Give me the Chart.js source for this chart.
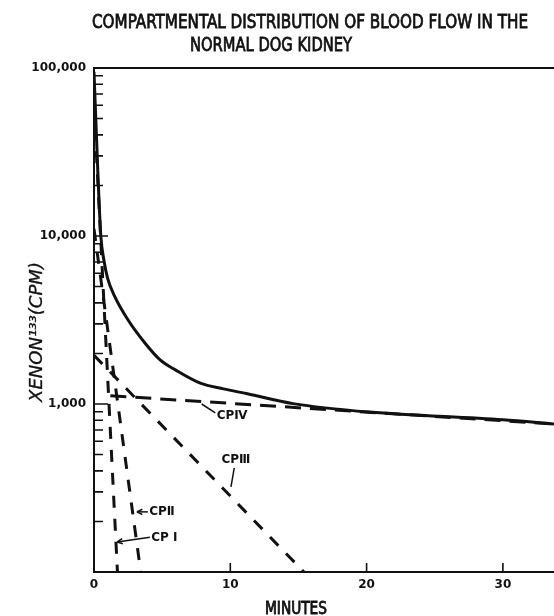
<!DOCTYPE html>
<html>
<head>
<meta charset="utf-8">
<script src="https://cdn.jsdelivr.net/npm/chart.js@4.4.1/dist/chart.umd.min.js"></script>
<style>
  html, body { margin: 0; padding: 0; background: #fff; }
  #wrap { width: 554px; height: 616px; position: relative; }
</style>
</head>
<body>
<div id="wrap"><canvas id="chart"></canvas></div>
<script>
// --- DATA (minutes / counts per minute) ---
const xTicks = [0, 10, 20, 30];
const yLabelValues = [100000, 10000, 1000];
const yLabelText = ['100,000', '10,000', '1,000'];
const yMinorSteps = [2, 3, 4, 5, 6, 7, 8, 9];
const yDecades = [100, 1000, 10000];

// total curve (solid)
const totalMin = [0, 0.3, 0.5, 0.75, 1.0, 1.5, 2.5, 3.75, 4.85, 6, 7.8, 9.5, 11.25, 14.6, 20.2, 30, 33.75];
const totalCpm = [95000, 22000, 10000, 7000, 5600, 4400, 3160, 2300, 1830, 1590, 1330, 1230, 1150, 1005, 895, 805, 760];

// compartments (dashed, straight on the log scale)
const cp1Min = [0, 1.72];
const cp1Cpm = [60000, 100];
const cp2Min = [0, 3.43];
const cp2Cpm = [11000, 100];
const cp3Min = [0, 15.4];
const cp3Cpm = [1950, 100];
const cp4Min = [1.2, 33.75];
const cp4Cpm = [1120, 760];

const INK = '#111';

function pts(xs, ys) {
  return xs.map((v, i) => ({ x: v, y: ys[i] }));
}

// text squeezed/stretched to a given width, with an optional outline for weight
function fitText(ctx, text, x, y, width, stroke) {
  const w = ctx.measureText(text).width;
  ctx.save();
  ctx.translate(x, y);
  ctx.scale(width / w, 1);
  ctx.fillText(text, 0, 0);
  if (stroke) {
    ctx.lineWidth = stroke;
    ctx.strokeText(text, 0, 0);
  }
  ctx.restore();
}

function arrowHead(ctx, x0, y0, x1, y1) {
  const ang = Math.atan2(y1 - y0, x1 - x0);
  ctx.beginPath();
  ctx.moveTo(x1, y1);
  ctx.lineTo(x1 - 6 * Math.cos(ang - 0.45), y1 - 6 * Math.sin(ang - 0.45));
  ctx.moveTo(x1, y1);
  ctx.lineTo(x1 - 6 * Math.cos(ang + 0.45), y1 - 6 * Math.sin(ang + 0.45));
  ctx.stroke();
}

// labels on the curves, in data coordinates
const notes = [
  { text: 'CPⅣ', at: [9.0, 850], lead: [[7.9, 1000], [8.9, 885]], arrow: false },
  { text: 'CPⅢ', at: [9.35, 464], lead: [[10.29, 416], [10.05, 321]], arrow: false },
  { text: 'CPⅡ', at: [4.05, 228], lead: [[3.95, 228], [3.15, 228]], arrow: true },
  { text: 'CP Ⅰ', at: [4.2, 159], lead: [[4.1, 161], [1.7, 151]], arrow: true }
];

const frame = {
  id: 'frame',
  afterDraw(chart) {
    const { ctx, chartArea: a, scales: { x, y } } = chart;
    ctx.save();
    ctx.strokeStyle = INK;
    ctx.fillStyle = INK;

    // plot frame: top, left, bottom
    ctx.lineWidth = 2;
    ctx.beginPath();
    ctx.moveTo(a.right, a.top);
    ctx.lineTo(a.left, a.top);
    ctx.lineTo(a.left, a.bottom);
    ctx.lineTo(a.right, a.bottom);
    ctx.stroke();

    // inward ticks
    ctx.lineWidth = 1.6;
    ctx.beginPath();
    yDecades.forEach(d => yMinorSteps.forEach(m => {
      const py = y.getPixelForValue(d * m);
      ctx.moveTo(a.left, py);
      ctx.lineTo(a.left + 9, py);
    }));
    [10000, 1000].forEach(v => {
      const py = y.getPixelForValue(v);
      ctx.moveTo(a.left, py);
      ctx.lineTo(a.left + 14, py);
    });
    xTicks.slice(1).forEach(v => {
      const px = x.getPixelForValue(v);
      ctx.moveTo(px, a.bottom);
      ctx.lineTo(px, a.bottom - 9);
    });
    ctx.stroke();

    // curve labels
    ctx.font = 'bold 12px "DejaVu Sans"';
    ctx.textBaseline = 'middle';
    ctx.textAlign = 'left';
    ctx.lineWidth = 1.5;
    notes.forEach(n => {
      ctx.fillText(n.text, x.getPixelForValue(n.at[0]), y.getPixelForValue(n.at[1]));
      const [p0, p1] = n.lead;
      const x0 = x.getPixelForValue(p0[0]), y0 = y.getPixelForValue(p0[1]);
      const x1 = x.getPixelForValue(p1[0]), y1 = y.getPixelForValue(p1[1]);
      ctx.beginPath();
      ctx.moveTo(x0, y0);
      ctx.lineTo(x1, y1);
      ctx.stroke();
      if (n.arrow) arrowHead(ctx, x0, y0, x1, y1);
    });

    // title
    ctx.textBaseline = 'alphabetic';
    ctx.font = '20px "Liberation Sans Narrow", "DejaVu Sans Condensed", sans-serif';
    fitText(ctx, 'COMPARTMENTAL DISTRIBUTION OF BLOOD FLOW IN THE', 92, 28, 436, 0.8);
    fitText(ctx, 'NORMAL DOG KIDNEY', 190, 51, 162, 0.8);

    // x axis title
    ctx.font = '17px "Liberation Sans Narrow", "DejaVu Sans Condensed", sans-serif';
    fitText(ctx, 'MINUTES', 265, 614, 62, 0.8);

    // y axis title
    ctx.save();
    ctx.translate(42, 402);
    ctx.rotate(-Math.PI / 2);
    ctx.font = 'italic 17px "DejaVu Sans", sans-serif';
    fitText(ctx, 'XENON¹³³(CPM)', 0, 0, 140, 0.3);
    ctx.restore();

    ctx.restore();
  }
};

const dashed = { borderColor: INK, borderWidth: 3, borderDash: [12, 11], pointRadius: 0, fill: false };

new Chart(document.getElementById('chart'), {
  type: 'line',
  data: {
    datasets: [
      { label: 'Total', data: pts(totalMin, totalCpm), borderColor: INK, borderWidth: 3,
        pointRadius: 0, fill: false, cubicInterpolationMode: 'monotone' },
      { label: 'CP I', data: pts(cp1Min, cp1Cpm), ...dashed },
      { label: 'CP II', data: pts(cp2Min, cp2Cpm), ...dashed },
      { label: 'CP III', data: pts(cp3Min, cp3Cpm), ...dashed },
      { label: 'CP IV', data: pts(cp4Min, cp4Cpm), ...dashed, borderDash: [16, 9] }
    ]
  },
  options: {
    responsive: true,
    maintainAspectRatio: false,
    animation: false,
    layout: { padding: { top: 68, right: 0, left: 0, bottom: 0 } },
    plugins: { legend: { display: false }, tooltip: { enabled: false } },
    scales: {
      x: {
        type: 'linear',
        min: 0,
        max: 33.75,
        border: { display: false },
        grid: { display: false, drawTicks: false },
        afterBuildTicks: s => { s.ticks = xTicks.map(v => ({ value: v })); },
        afterFit: s => { s.height = 44; },
        ticks: {
          color: INK,
          padding: 6,
          maxRotation: 0,
          font: { family: 'DejaVu Sans', weight: 'bold', size: 12 },
          callback: v => String(v)
        }
      },
      y: {
        type: 'logarithmic',
        min: 100,
        max: 100000,
        border: { display: false },
        grid: { display: false, drawTicks: false },
        afterBuildTicks: s => { s.ticks = yLabelValues.map(v => ({ value: v })); },
        afterFit: s => { s.width = 94; },
        ticks: {
          color: INK,
          padding: 8,
          font: { family: 'DejaVu Sans', weight: 'bold', size: 12 },
          callback: v => yLabelText[yLabelValues.indexOf(v)] ?? ''
        }
      }
    }
  },
  plugins: [frame]
});
</script>
</body>
</html>
